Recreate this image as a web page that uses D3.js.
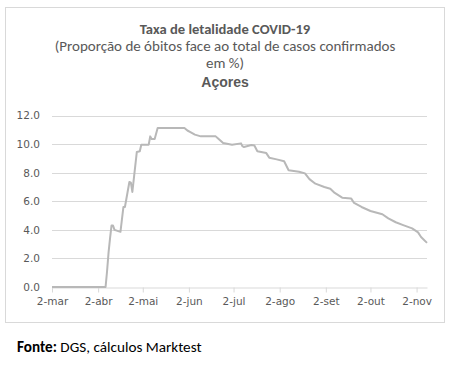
<!DOCTYPE html>
<html><head><meta charset="utf-8">
<script src="https://cdn.jsdelivr.net/npm/d3@7"></script>
<style>body{margin:0;background:#fff}svg{display:block}</style>
</head><body>
<svg id="c" width="453" height="365"></svg>
<script>
const titleLines = ["Taxa de letalidade COVID-19", "(Proporção de óbitos face ao total de casos confirmados", "em %)"];
const subTitle = "Açores";
const sourceLabel = "Fonte:";
const sourceText = " DGS, cálculos Marktest";
const yTicks = [0, 2, 4, 6, 8, 10, 12];
const xTickDates = ["2020-03-02","2020-04-02","2020-05-02","2020-06-02","2020-07-02","2020-08-02","2020-09-02","2020-10-02","2020-11-02"];
const monthNames = ["jan","fev","mar","abr","mai","jun","jul","ago","set","out","nov","dez"];
const dates = ["2020-03-02","2020-04-07","2020-04-08","2020-04-09","2020-04-10","2020-04-11","2020-04-12","2020-04-13","2020-04-17","2020-04-19","2020-04-20","2020-04-23","2020-04-24","2020-04-25","2020-04-28","2020-04-30","2020-05-01","2020-05-05","2020-05-06","2020-05-07","2020-05-08","2020-05-10","2020-05-12","2020-05-30","2020-06-01","2020-06-03","2020-06-06","2020-06-10","2020-06-20","2020-06-22","2020-06-25","2020-07-01","2020-07-07","2020-07-08","2020-07-09","2020-07-14","2020-07-16","2020-07-18","2020-07-24","2020-07-26","2020-07-31","2020-08-05","2020-08-08","2020-08-15","2020-08-19","2020-08-22","2020-08-26","2020-09-01","2020-09-05","2020-09-08","2020-09-13","2020-09-19","2020-09-21","2020-09-26","2020-10-02","2020-10-10","2020-10-14","2020-10-19","2020-10-24","2020-10-30","2020-11-03","2020-11-05","2020-11-09"];
const values = [0,0,1.1,2.4,3.4,4.3,4.3,4.0,3.86,5.6,5.6,7.35,7.3,6.65,9.45,9.5,9.96,9.96,9.96,10.54,10.35,10.35,11.12,11.12,10.95,10.84,10.66,10.54,10.54,10.35,10.07,9.96,10.05,9.85,9.79,9.93,9.9,9.5,9.37,9.05,8.93,8.8,8.17,8.07,7.95,7.55,7.23,7.0,6.88,6.58,6.25,6.2,5.88,5.6,5.32,5.09,4.8,4.53,4.33,4.1,3.82,3.5,3.09];

const parse = d3.timeParse("%Y-%m-%d");
const data = dates.map((d,i)=>({date:parse(d), value:values[i]}));
const svg = d3.select("#c");
const gray = "#595959";

svg.append("rect").attr("x",5.5).attr("y",7.5).attr("width",439).attr("height",315)
  .attr("fill","#fff").attr("stroke","#d9d9d9").attr("stroke-width",1);

const font = "Calibri, Carlito, Lato, sans-serif";
svg.append("text").attr("x",225).attr("y",34).attr("text-anchor","middle")
  .attr("font-family",font).attr("font-weight","bold").attr("font-size",14.6).attr("fill",gray).text(titleLines[0]);
svg.append("text").attr("x",225).attr("y",51).attr("text-anchor","middle")
  .attr("font-family",font).attr("font-size",15).attr("fill",gray).text(titleLines[1]);
svg.append("text").attr("x",225).attr("y",68).attr("text-anchor","middle")
  .attr("font-family",font).attr("font-size",15).attr("fill",gray).text(titleLines[2]);
svg.append("text").attr("x",225).attr("y",87).attr("text-anchor","middle")
  .attr("font-family","Arial, 'Liberation Sans', sans-serif").attr("font-weight","bold").attr("font-size",14).attr("fill",gray).text(subTitle);

const x = d3.scaleTime().domain([parse("2020-03-02"), parse("2020-11-09")]).range([52, 427]);
const y = d3.scaleLinear().domain([0, 12]).range([287, 115.5]);

// gridlines
svg.append("g").selectAll("line").data(yTicks.filter(v=>v>0)).join("line")
  .attr("x1",52).attr("x2",427).attr("y1",d=>Math.round(y(d))+0.5).attr("y2",d=>Math.round(y(d))+0.5)
  .attr("stroke","#d9d9d9").attr("stroke-width",1);

// y axis
const yAxis = svg.append("g").attr("transform","translate(52,0)")
  .call(d3.axisLeft(y).tickValues(yTicks).tickFormat(d3.format(".1f")).tickSize(0).tickPadding(12));
yAxis.select(".domain").remove();
yAxis.selectAll("text").attr("font-family","Verdana, 'DejaVu Sans', sans-serif").attr("font-size",10.5).attr("fill",gray);

// x axis
const xAxis = svg.append("g").attr("transform","translate(0,287.5)")
  .call(d3.axisBottom(x).tickValues(xTickDates.map(parse))
    .tickFormat(d=>d.getDate()+"-"+monthNames[d.getMonth()]).tickSize(5).tickPadding(5).tickSizeOuter(0));
xAxis.select(".domain").attr("stroke","#d9d9d9");
xAxis.selectAll(".tick line").attr("stroke","#d9d9d9");
xAxis.selectAll("text").attr("font-family","Verdana, 'DejaVu Sans', sans-serif").attr("font-size",10.5).attr("fill",gray);

// line
svg.append("path").datum(data)
  .attr("d", d3.line().x(d=>x(d.date)).y(d=>y(d.value)))
  .attr("fill","none").attr("stroke","#b8b8b8").attr("stroke-width",2).attr("stroke-linejoin","round");

// source
const src = svg.append("text").attr("x",17).attr("y",352).attr("font-family",font).attr("font-size",15.2).attr("fill","#000");
src.append("tspan").attr("font-weight","bold").text(sourceLabel);
src.append("tspan").text(sourceText);
</script>
</body></html>
